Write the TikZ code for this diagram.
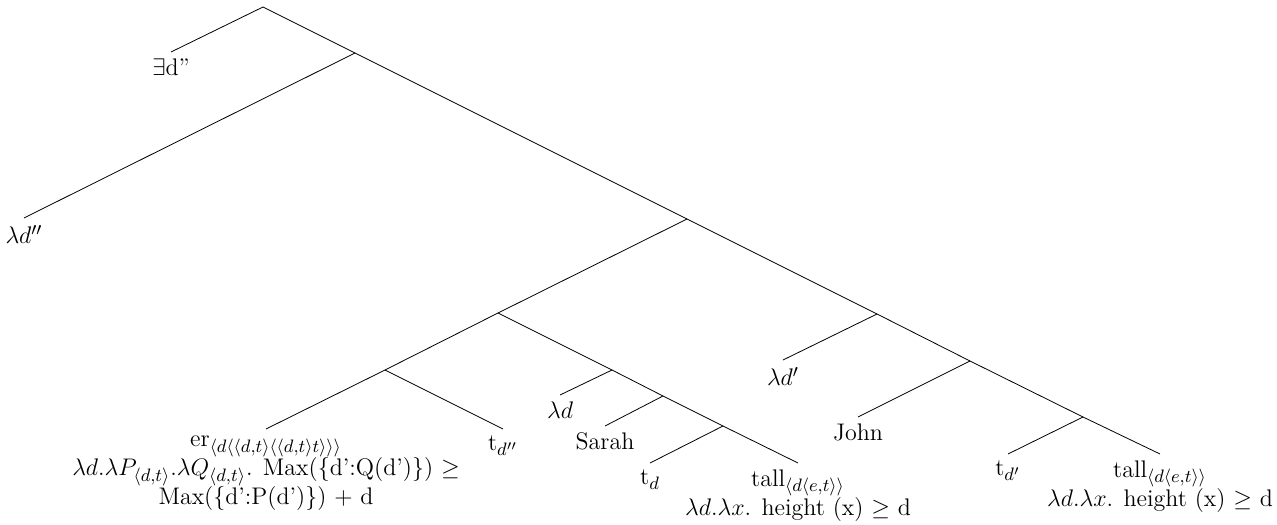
\documentclass[tikz,border=0pt]{standalone}
\usepackage{amsmath}
\usepackage{amssymb}
\usetikzlibrary{positioning}
\DeclareMathSizes{12}{12}{9}{7}

\begin{document}
\begin{tikzpicture}[
    x=0.5pt, y=-0.5pt,
    leaf/.style={anchor=north, align=center, font=\fontsize{12}{14.5}\selectfont},
    branch/.style={line width=0.4pt}
]
\useasboundingbox (0,0) rectangle (1277,524);

% inner points of the tree
\coordinate (root) at (263,7);
\coordinate (n1) at (355,53);
\coordinate (n2) at (687,219);
\coordinate (n3) at (498,313);
\coordinate (n4) at (385,370);
\coordinate (n5) at (612,370);
\coordinate (n6) at (663,396);
\coordinate (n7) at (723,426);
\coordinate (n8) at (877,314);
\coordinate (n9) at (970,361);
\coordinate (n10) at (1083,417);

% leaves
\node[leaf] (exists) at (171,52) {$\exists$d''};
\node[leaf] (lamddd) at (24,218) {$\lambda d''$};
\node[leaf] (er) at (266,429) {er$_{\langle d\langle\langle d,t\rangle\langle\langle d,t\rangle t\rangle\rangle\rangle}$\\
    $\lambda d.\lambda P_{\langle d,t\rangle}.\lambda Q_{\langle d,t\rangle}$. Max(\{d':Q(d')\}) $\geq$\\
    Max(\{d':P(d')\}) $+$ d};
\node[leaf] (tddd) at (503,429) {t$_{d''}$};
\node[leaf] (lamd) at (560,395) {$\lambda d$};
\node[leaf] (sarah) at (605,426) {Sarah};
\node[leaf] (td) at (650,463) {t$_{d}$};
\node[leaf] (tallA) at (798,463) {tall$_{\langle d\langle e,t\rangle\rangle}$\\
    $\lambda d.\lambda x$. height (x) $\geq$ d};
\node[leaf] (lamdd) at (783,360) {$\lambda d'$};
\node[leaf] (john) at (858,417) {John};
\node[leaf] (tdd) at (1008,454) {t$_{d'}$};
\node[leaf] (tallB) at (1160,454) {tall$_{\langle d\langle e,t\rangle\rangle}$\\
    $\lambda d.\lambda x$. height (x) $\geq$ d};

% branches
\draw[branch] (root) -- (exists.north);
\draw[branch] (root) -- (n1);
\draw[branch] (n1) -- (lamddd.north);
\draw[branch] (n1) -- (n2);
\draw[branch] (n2) -- (n3);
\draw[branch] (n2) -- (n8);
\draw[branch] (n3) -- (n4);
\draw[branch] (n3) -- (n5);
\draw[branch] (n4) -- (er.north);
\draw[branch] (n4) -- (tddd.north);
\draw[branch] (n5) -- (lamd.north);
\draw[branch] (n5) -- (n6);
\draw[branch] (n6) -- (sarah.north);
\draw[branch] (n6) -- (n7);
\draw[branch] (n7) -- (td.north);
\draw[branch] (n7) -- (tallA.north);
\draw[branch] (n8) -- (lamdd.north);
\draw[branch] (n8) -- (n9);
\draw[branch] (n9) -- (john.north);
\draw[branch] (n9) -- (n10);
\draw[branch] (n10) -- (tdd.north);
\draw[branch] (n10) -- (tallB.north);

\end{tikzpicture}
\end{document}
